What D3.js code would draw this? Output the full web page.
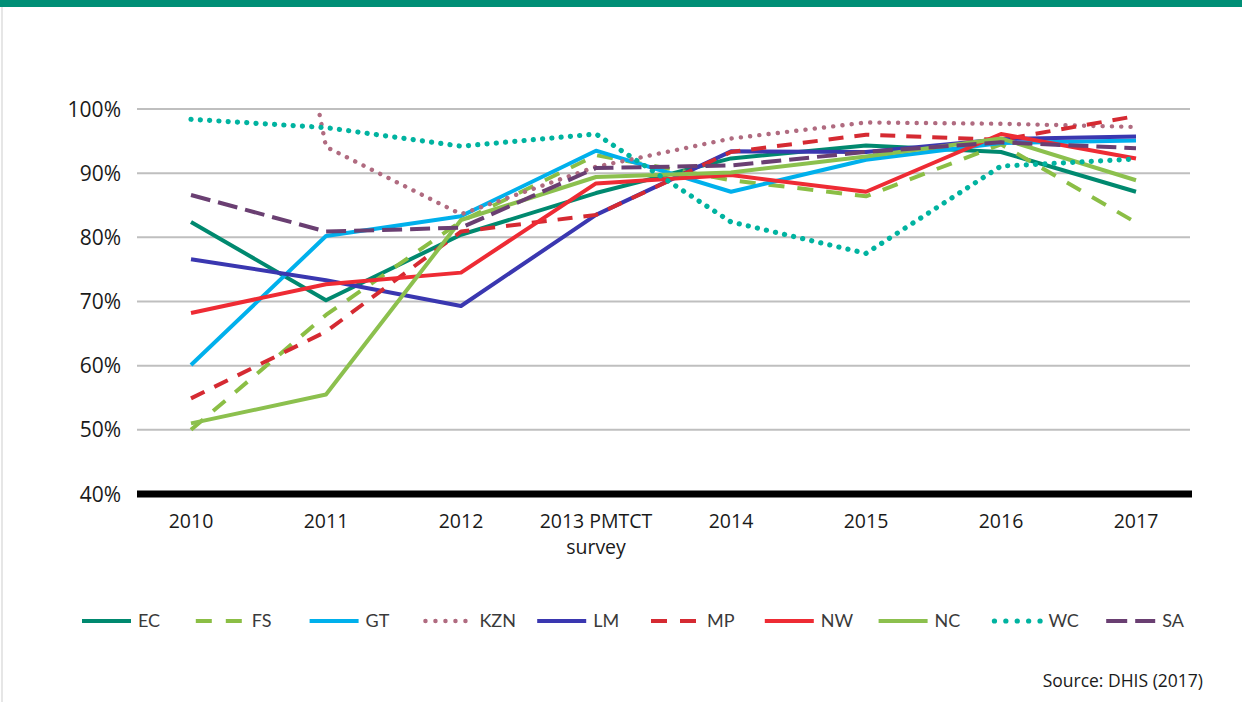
<!DOCTYPE html>
<html>
<head>
<meta charset="utf-8">
<script src="https://cdn.jsdelivr.net/npm/d3@7"></script>
<style>
  body { margin: 0; background: #fff; }
  svg { display: block; }
</style>
</head>
<body>
<div id="chart"></div>
<script>
// categories on the x axis
const years = ["2010", "2011", "2012", "2013", "2014", "2015", "2016", "2017"];
const yearLabels = [["2010"], ["2011"], ["2012"], ["2013 PMTCT", "survey"], ["2014"], ["2015"], ["2016"], ["2017"]];
const yTicks = [40, 50, 60, 70, 80, 90, 100];

// series values (%)
const EC  = [82.4, 70.2, 80.4, 86.9, 92.3, 94.3, 93.3, 87.1];
const FS  = [50.0, 67.9, 82.5, 92.8, 88.9, 86.4, 94.5, 82.3];
const GT  = [60.1, 80.2, 83.3, 93.5, 87.1, 92.1, 94.7, 95.1];
const KZN = [200, 94.1, 83.6, 91.0, 95.4, 97.9, 97.7, 97.2];
const LM  = [76.6, 73.3, 69.3, 83.5, 93.4, 93.3, 95.3, 95.7];
const MP  = [54.9, 65.3, 80.9, 83.5, 93.3, 96.0, 95.2, 98.9];
const NW  = [68.2, 72.7, 74.5, 88.4, 89.7, 87.1, 96.1, 92.3];
const NC  = [51.0, 55.5, 82.7, 89.4, 90.1, 92.6, 95.4, 88.9];
const WC  = [98.4, 97.1, 94.2, 96.1, 82.4, 77.5, 91.1, 92.2];
const SA  = [86.6, 80.9, 81.5, 90.8, 91.2, 93.3, 94.8, 93.9];

const names = ["EC", "FS", "GT", "KZN", "LM", "MP", "NW", "NC", "WC", "SA"];
const values = [EC, FS, GT, KZN, LM, MP, NW, NC, WC, SA];
const colors = ["#00896f", "#8bbe45", "#00b0ec", "#b06b80", "#3a37b0", "#d52a32", "#ee2b34", "#8cc04e", "#00b3a0", "#6a3f72"];
const dashes = [null, "16 13", null, "0.1 9.2", null, "15 11", null, null, "0.1 9.2", "20 8"];
const legendDashes = [null, "16 14", null, "0.1 9.9", null, "16 13", null, null, "0.1 11.3", "21 8"];
const widths = [4, 4, 4, 4.4, 4, 4, 4, 4, 5.2, 4];

const width = 1242, height = 702;
const margin = { left: 137, right: 52, top: 109, bottom: 208 };

const svg = d3.select("#chart").append("svg")
  .attr("width", width)
  .attr("height", height);

// frame: green top band and thin left border
svg.append("rect").attr("x", 0).attr("y", 0).attr("width", width).attr("height", 7).attr("fill", "#008f76");
svg.append("rect").attr("x", 1).attr("y", 7).attr("width", 2).attr("height", height - 7).attr("fill", "#e6e6e6");

const x = d3.scalePoint()
  .domain(years)
  .range([margin.left, width - margin.right])
  .padding(0.4);

const y = d3.scaleLinear()
  .domain([40, 100])
  .range([height - margin.bottom, margin.top]);

// gridlines
svg.append("g")
  .selectAll("line")
  .data(yTicks.filter(d => d > 40))
  .join("line")
  .attr("x1", margin.left)
  .attr("x2", width - margin.right)
  .attr("y1", d => y(d))
  .attr("y2", d => y(d))
  .attr("stroke", "#bfbfbf")
  .attr("stroke-width", 2);

// y labels
svg.append("g")
  .selectAll("text")
  .data(yTicks)
  .join("text")
  .attr("x", 121)
  .attr("y", d => y(d))
  .attr("dy", "0.36em")
  .attr("text-anchor", "end")
  .attr("font-family", "'Open Sans', sans-serif")
  .attr("font-size", 21)
  .attr("fill", "#1a1a1a")
  .text(d => d + "%");

// x labels
const xl = svg.append("g")
  .selectAll("text")
  .data(years)
  .join("text")
  .attr("text-anchor", "middle")
  .attr("font-family", "'Open Sans', sans-serif")
  .attr("font-size", 19.5)
  .attr("fill", "#1a1a1a");
xl.selectAll("tspan")
  .data((d, i) => yearLabels[i].map(t => ({ t, k: d })))
  .join("tspan")
  .attr("x", d => x(d.k))
  .attr("y", (d, j) => 528 + j * 26)
  .text(d => d.t);

// clip for lines running off the top
svg.append("clipPath").attr("id", "plot-clip")
  .append("rect")
  .attr("x", margin.left)
  .attr("y", y(100))
  .attr("width", width - margin.left - margin.right)
  .attr("height", y(40) - y(100));

const line = d3.line()
  .x((d, i) => x(years[i]))
  .y(d => y(d));

const isDot = s => s && s.startsWith("0.1");

svg.append("g")
  .attr("clip-path", "url(#plot-clip)")
  .selectAll("path")
  .data(values)
  .join("path")
  .attr("d", d => line(d))
  .attr("fill", "none")
  .attr("stroke", (d, i) => colors[i])
  .attr("stroke-width", (d, i) => widths[i])
  .attr("stroke-dasharray", (d, i) => dashes[i])
  .attr("stroke-linecap", (d, i) => isDot(dashes[i]) ? "round" : "butt")
  .attr("stroke-linejoin", "round");

// black baseline at 40%
svg.append("line")
  .attr("x1", margin.left)
  .attr("x2", width - margin.right + 2)
  .attr("y1", y(40))
  .attr("y2", y(40))
  .attr("stroke", "#000")
  .attr("stroke-width", 7);

// legend
const legend = svg.append("g")
  .selectAll("g")
  .data(names)
  .join("g")
  .attr("transform", (d, i) => `translate(${82 + i * 113.8},621)`);

legend.append("line")
  .attr("x1", (d, i) => isDot(legendDashes[i]) ? 2 : 0)
  .attr("x2", 49)
  .attr("y1", 0).attr("y2", 0)
  .attr("stroke", (d, i) => colors[i])
  .attr("stroke-width", (d, i) => widths[i])
  .attr("stroke-dasharray", (d, i) => legendDashes[i])
  .attr("stroke-linecap", (d, i) => isDot(legendDashes[i]) ? "round" : "butt");

legend.append("text")
  .attr("x", 56)
  .attr("dy", "0.36em")
  .attr("font-family", "Lato, sans-serif")
  .attr("font-size", 18)
  .attr("fill", "#3a3a3a")
  .text(d => d);

// source note
svg.append("text")
  .attr("x", 1203)
  .attr("y", 687)
  .attr("text-anchor", "end")
  .attr("font-family", "'Open Sans', sans-serif")
  .attr("font-size", 17.5)
  .attr("fill", "#1a1a1a")
  .text("Source: DHIS (2017)");
</script>
</body>
</html>
